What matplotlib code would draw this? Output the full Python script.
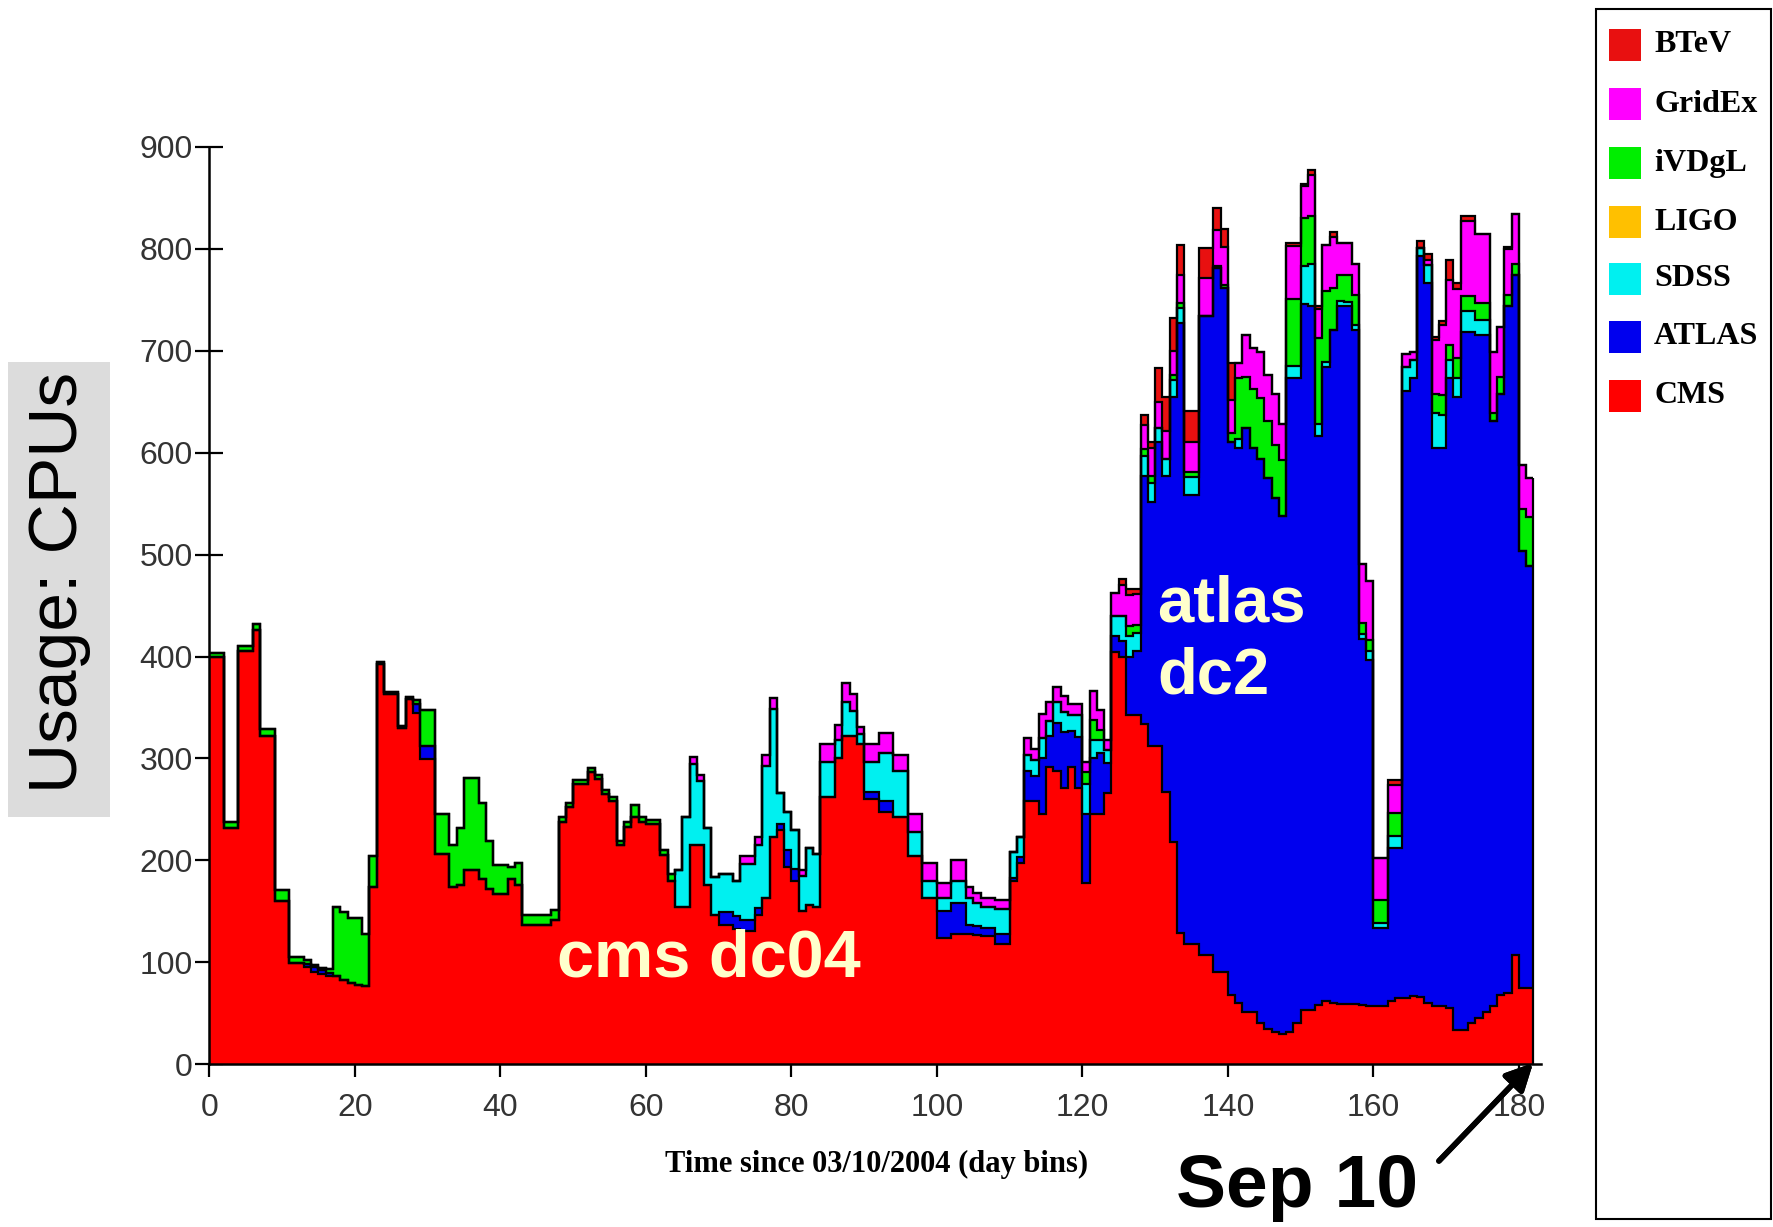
import matplotlib
matplotlib.use("Agg")
import matplotlib.pyplot as plt
import numpy as np
from matplotlib.patches import Rectangle

# day bins since 03/10/2004, values = CPUs per VO
cms = [
    400, 400, 232, 232, 405, 405, 426, 322, 322, 160,
    160, 99, 99, 95, 90, 88, 87, 87, 83, 80,
    78, 77, 174, 393, 363, 363, 330, 358, 345, 299,
    299, 206, 206, 174, 176, 191, 191, 182, 172, 167,
    167, 182, 176, 137, 137, 137, 137, 141, 238, 252,
    275, 275, 287, 280, 265, 258, 215, 233, 243, 238,
    236, 236, 205, 180, 154, 154, 215, 215, 176, 146,
    137, 137, 133, 131, 131, 146, 163, 223, 230, 193,
    180, 150, 156, 154, 262, 262, 300, 322, 322, 314,
    260, 260, 247, 247, 243, 243, 204, 204, 163, 163,
    124, 124, 128, 128, 128, 127, 126, 126, 118, 118,
    180, 197, 258, 258, 245, 292, 288, 271, 292, 271,
    178, 245, 245, 266, 404, 400, 343, 343, 334, 312,
    312, 267, 218, 129, 118, 118, 107, 107, 90, 90,
    68, 60, 51, 51, 40, 35, 32, 30, 32, 40,
    53, 53, 58, 62, 60, 59, 59, 59, 58, 57,
    57, 57, 62, 65, 65, 67, 66, 60, 57, 57,
    55, 34, 34, 40, 45, 51, 57, 68, 70, 107,
    75, 75,
]
atlas = [
    0, 0, 0, 0, 0, 0, 0, 0, 0, 0,
    0, 0, 0, 3, 5, 4, 2, 0, 0, 0,
    0, 0, 0, 0, 0, 0, 0, 0, 8, 13,
    13, 0, 0, 0, 0, 0, 0, 0, 0, 0,
    0, 0, 0, 0, 0, 0, 0, 0, 0, 0,
    0, 0, 0, 0, 0, 0, 0, 0, 0, 0,
    0, 0, 0, 0, 0, 0, 0, 0, 0, 0,
    12, 12, 12, 10, 10, 7, 0, 0, 6, 17,
    12, 0, 0, 0, 0, 0, 0, 0, 0, 0,
    7, 7, 11, 11, 0, 0, 0, 0, 0, 0,
    26, 26, 30, 30, 9, 9, 8, 8, 10, 10,
    3, 6, 30, 25, 55, 30, 47, 55, 35, 50,
    67, 55, 60, 30, 16, 15, 57, 62, 243, 240,
    299, 310, 437, 598, 441, 441, 627, 627, 691, 672,
    543, 545, 573, 554, 554, 540, 524, 508, 641, 633,
    693, 691, 558, 622, 660, 685, 685, 661, 359, 340,
    77, 77, 150, 147, 596, 606, 727, 707, 548, 548,
    618, 621, 684, 678, 671, 665, 574, 590, 674, 667,
    429, 414,
]
sdss = [
    0, 0, 0, 0, 0, 0, 0, 0, 0, 0,
    0, 0, 0, 0, 0, 0, 0, 0, 0, 0,
    0, 0, 0, 0, 0, 0, 0, 0, 0, 0,
    0, 0, 0, 0, 0, 0, 0, 0, 0, 0,
    0, 0, 0, 0, 0, 0, 0, 0, 0, 0,
    0, 0, 0, 0, 0, 0, 0, 0, 0, 0,
    0, 0, 0, 0, 37, 89, 80, 63, 56, 38,
    38, 38, 35, 55, 55, 62, 130, 126, 30, 37,
    38, 35, 56, 52, 35, 35, 18, 33, 25, 10,
    30, 30, 47, 47, 45, 45, 24, 24, 17, 17,
    13, 13, 22, 22, 26, 22, 20, 20, 24, 24,
    25, 20, 15, 15, 20, 15, 20, 20, 16, 22,
    30, 18, 13, 12, 20, 25, 20, 18, 20, 18,
    13, 17, 16, 15, 17, 17, 0, 0, 0, 0,
    0, 8, 0, 0, 0, 0, 0, 0, 12, 12,
    37, 41, 12, 5, 0, 5, 4, 5, 5, 8,
    5, 5, 12, 12, 23, 18, 8, 17, 34, 32,
    18, 18, 21, 21, 14, 14, 0, 0, 0, 0,
    0, 0,
]
ivdgl = [
    3, 3, 6, 6, 5, 5, 6, 7, 7, 11,
    11, 6, 6, 4, 2, 2, 4, 67, 66, 63,
    65, 51, 30, 2, 2, 2, 2, 2, 4, 36,
    36, 39, 39, 41, 56, 90, 90, 74, 47, 28,
    28, 11, 21, 9, 9, 9, 9, 10, 5, 4,
    4, 4, 4, 4, 4, 4, 4, 5, 11, 5,
    4, 4, 5, 7, 0, 0, 0, 0, 0, 0,
    0, 0, 0, 0, 0, 0, 0, 0, 0, 0,
    0, 0, 0, 0, 0, 0, 0, 0, 0, 0,
    0, 0, 0, 0, 0, 0, 0, 0, 0, 0,
    0, 0, 0, 0, 0, 0, 0, 0, 0, 0,
    0, 0, 0, 0, 0, 0, 0, 0, 0, 0,
    12, 20, 10, 0, 0, 0, 10, 8, 7, 7,
    0, 0, 5, 5, 5, 5, 0, 0, 2, 3,
    8, 60, 50, 58, 60, 56, 52, 55, 66, 66,
    47, 47, 85, 70, 42, 25, 26, 30, 11, 11,
    22, 22, 22, 22, 0, 0, 0, 0, 19, 20,
    15, 20, 15, 15, 17, 17, 8, 16, 11, 11,
    41, 48,
]
gridex = [
    0, 0, 0, 0, 0, 0, 0, 0, 0, 0,
    0, 0, 0, 0, 0, 0, 0, 0, 0, 0,
    0, 0, 0, 0, 0, 0, 0, 0, 0, 0,
    0, 0, 0, 0, 0, 0, 0, 0, 0, 0,
    0, 0, 0, 0, 0, 0, 0, 0, 0, 0,
    0, 0, 0, 0, 0, 0, 0, 0, 0, 0,
    0, 0, 0, 0, 0, 0, 6, 6, 0, 0,
    0, 0, 0, 8, 8, 8, 10, 10, 0, 0,
    0, 6, 0, 0, 17, 17, 15, 19, 16, 7,
    17, 17, 20, 20, 15, 15, 17, 17, 17, 17,
    15, 15, 20, 20, 11, 10, 9, 9, 9, 9,
    0, 0, 17, 11, 24, 18, 15, 15, 10, 10,
    10, 28, 20, 10, 22, 30, 30, 30, 23, 28,
    26, 27, 24, 27, 30, 30, 37, 37, 36, 37,
    33, 15, 42, 40, 45, 45, 50, 35, 52, 52,
    32, 41, 28, 45, 50, 32, 32, 30, 58, 58,
    41, 41, 28, 28, 13, 8, 0, 5, 53, 68,
    63, 68, 73, 73, 68, 68, 60, 49, 45, 49,
    43, 38,
]
btev = [
    0, 0, 0, 0, 0, 0, 0, 0, 0, 0,
    0, 0, 0, 0, 0, 0, 0, 0, 0, 0,
    0, 0, 0, 0, 0, 0, 0, 0, 0, 0,
    0, 0, 0, 0, 0, 0, 0, 0, 0, 0,
    0, 0, 0, 0, 0, 0, 0, 0, 0, 0,
    0, 0, 0, 0, 0, 0, 0, 0, 0, 0,
    0, 0, 0, 0, 0, 0, 0, 0, 0, 0,
    0, 0, 0, 0, 0, 0, 0, 0, 0, 0,
    0, 0, 0, 0, 0, 0, 0, 0, 0, 0,
    0, 0, 0, 0, 0, 0, 0, 0, 0, 0,
    0, 0, 0, 0, 0, 0, 0, 0, 0, 0,
    0, 0, 0, 0, 0, 0, 0, 0, 0, 0,
    0, 0, 0, 0, 0, 6, 6, 5, 10, 6,
    33, 34, 32, 30, 30, 30, 30, 30, 21, 18,
    36, 0, 0, 0, 0, 0, 0, 0, 3, 3,
    2, 4, 3, 0, 5, 0, 0, 0, 0, 0,
    0, 0, 5, 5, 0, 0, 7, 6, 3, 4,
    20, 6, 5, 5, 0, 0, 0, 0, 2, 0,
    0, 0,
]

# stack order bottom -> top
layers = [
    ("CMS", cms, "#ff0000"),
    ("ATLAS", atlas, "#0000ee"),
    ("SDSS", sdss, "#00f0f0"),
    ("iVDgL", ivdgl, "#00ee00"),
    ("GridEx", gridex, "#ff00ff"),
    ("BTeV", btev, "#e81010"),
]
legend_items = [
    ("BTeV", "#e81010"),
    ("GridEx", "#ff00ff"),
    ("iVDgL", "#00ee00"),
    ("LIGO", "#ffc000"),
    ("SDSS", "#00f0f0"),
    ("ATLAS", "#0000ee"),
    ("CMS", "#ff0000"),
]

fig = plt.figure(figsize=(17.74, 12.27), dpi=100)
ax = fig.add_axes([0.118, 0.1327, 0.7505, 0.7475])

edges = np.arange(len(cms) + 1)
bottom = np.zeros(len(cms))
for name, vals, color in layers:
    top = bottom + np.array(vals, dtype=float)
    ax.stairs(top, edges, baseline=bottom, fill=True, color=color, lw=0, zorder=2)
    bottom = top
# black outlines on top of every layer
bottom = np.zeros(len(cms))
for name, vals, color in layers:
    top = bottom + np.array(vals, dtype=float)
    ax.stairs(top, edges, baseline=None, color="black", lw=1.6, zorder=3)
    bottom = top
ax.vlines(edges[-1], 0, bottom[-1], color="black", lw=1.6, zorder=3)

ax.set_xlim(0, 183)
ax.set_ylim(0, 900)
ax.set_xticks(np.arange(0, 181, 20))
ax.set_yticks(np.arange(0, 901, 100))
for s in ["top", "right"]:
    ax.spines[s].set_visible(False)
for s in ["left", "bottom"]:
    ax.spines[s].set_linewidth(1.8)
    ax.spines[s].set_zorder(4)
ax.tick_params(axis="y", direction="inout", length=20, width=1.6,
               labelsize=23, pad=2, labelcolor="#333333")
ax.tick_params(axis="x", direction="out", length=9, width=1.6,
               labelsize=23, pad=12, labelcolor="#333333")
for lab in ax.get_xticklabels() + ax.get_yticklabels():
    lab.set_family("Liberation Sans")
ax.set_facecolor("white")

fig.text(0.4943, 0.0507, "Time since 03/10/2004 (day bins)", ha="center", va="center",
         fontsize=22, fontweight="bold", family="Liberation Serif")

# y label in grey box
fig.add_artist(Rectangle((0.0045, 0.334), 0.0575, 0.371, transform=fig.transFigure,
                         facecolor="#dcdcdc", edgecolor="none"))
fig.text(0.0335, 0.525, "Usage: CPUs", rotation=90, ha="center", va="center",
         fontsize=50, family="Liberation Sans")

# annotations
ax.text(68.6, 103, "cms dc04", ha="center", va="center", fontsize=48,
        fontweight="bold", color="#ffffcc", family="Liberation Sans", zorder=5)
ax.text(130.3, 416, "atlas\ndc2", ha="left", va="center", fontsize=47,
        fontweight="bold", color="#ffffcc", family="Liberation Sans",
        linespacing=1.25, zorder=5)
fig.text(0.731, 0.032, "Sep 10", ha="center", va="center", fontsize=54,
         fontweight="bold", family="Liberation Sans")
fig.add_artist(plt.annotate(
    "", xy=(1535 / 1774, 1 - 1061 / 1227), xycoords="figure fraction",
    xytext=(1437 / 1774, 1 - 1163 / 1227), textcoords="figure fraction",
    arrowprops=dict(arrowstyle="-|>", lw=4, mutation_scale=40, color="black")))

# legend box
fig.add_artist(Rectangle((0.8999, 0.0065), 0.0982, 0.986, transform=fig.transFigure,
                         fill=False, edgecolor="black", lw=1.5))
centers = [45, 104, 163, 222, 279, 337, 396]
for (name, color), cy in zip(legend_items, centers):
    yf = 1 - cy / 1227
    fig.add_artist(Rectangle((0.907, yf - 0.013), 0.018, 0.026, transform=fig.transFigure,
                             facecolor=color, edgecolor="none"))
    fig.text(0.9324, yf, name, ha="left", va="center", fontsize=23,
             fontweight="bold", family="Liberation Serif")

fig.savefig("out.png", dpi=100)
